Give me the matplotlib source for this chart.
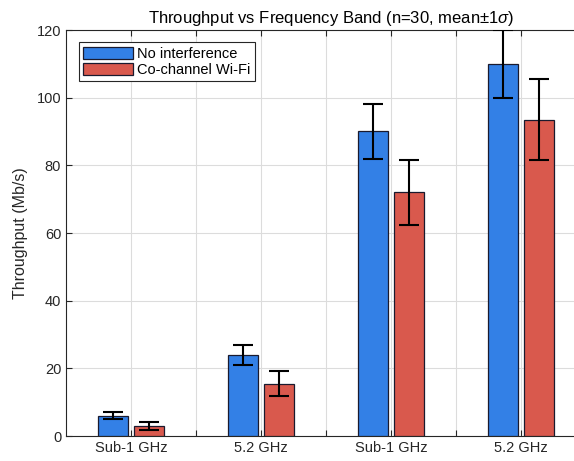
import numpy as np
import matplotlib.pyplot as plt

plt.rcParams['font.family'] = ['Liberation Sans', 'DejaVu Sans']
plt.rcParams['mathtext.fontset'] = 'custom'
plt.rcParams['mathtext.rm'] = 'Liberation Sans'
plt.rcParams['mathtext.it'] = 'Liberation Sans:italic'

bands = ['Sub-1 GHz', '5.2 GHz', 'Sub-1 GHz', '5.2 GHz']
series = ['No interference', 'Co-channel Wi-Fi']
mean_clean = [6.0, 24.0, 90.0, 110.0]
std_clean = [1.0, 3.0, 8.0, 10.0]
mean_wifi = [3.0, 15.5, 72.0, 93.5]
std_wifi = [1.1, 3.7, 9.5, 12.0]

colors = ['#3380E6', '#D9594D']
axis_gray = '#262626'

fig = plt.figure(figsize=(5.74, 4.61), dpi=100)
# plot area is cut off on the right, so no right spine
ax = fig.add_axes([66 / 574, 25 / 461, 508 / 574, 406 / 461])

x = np.arange(1, len(bands) + 1)
width = 0.23
offset = 0.14

for k, (m, s) in enumerate([(mean_clean, std_clean), (mean_wifi, std_wifi)]):
    pos = x + (2 * k - 1) * offset
    ax.bar(pos, m, width, color=colors[k], edgecolor='#1a1a2e', linewidth=0.9,
           label=series[k], zorder=3)
    ax.errorbar(pos, m, yerr=s, fmt='none', ecolor='black', elinewidth=1.5,
                capsize=7, capthick=1.5, zorder=4)

ax.set_xlim(0.5, 0.5 + 508 / 130)
ax.set_ylim(0, 120)
ax.set_yticks(np.arange(0, 121, 20))
half_ticks = np.arange(1, 4.01, 0.5)
ax.set_xticks(half_ticks)
ax.set_xticklabels([bands[int(t) - 1] if t == int(t) else '' for t in half_ticks])

ax.grid(True, color='#dcdcdc', linewidth=0.8, zorder=0)
ax.set_axisbelow(True)
ax.tick_params(direction='in', length=4, width=0.8, colors=axis_gray,
               labelsize=10.5, top=True, right=False)
for sp in ax.spines.values():
    sp.set_color(axis_gray)
    sp.set_linewidth(0.8)
ax.spines['right'].set_visible(False)

ax.set_ylabel('Throughput (Mb/s)', fontsize=11.5, color=axis_gray, labelpad=6)
ax.set_title(r'Throughput vs Frequency Band (n=30, mean$\pm$1$\sigma$)',
             fontsize=12, color='black', pad=5, x=265 / 508)

leg = ax.legend(loc='upper left', bbox_to_anchor=(13 / 508, 0.97), fontsize=10.5,
                fancybox=False, framealpha=1, edgecolor=axis_gray,
                handlelength=3.4, handleheight=0.9, handletextpad=0.3,
                borderpad=0.3, labelspacing=0.15, borderaxespad=0)
leg.get_frame().set_linewidth(0.8)

fig.savefig('out.png', dpi=100)
